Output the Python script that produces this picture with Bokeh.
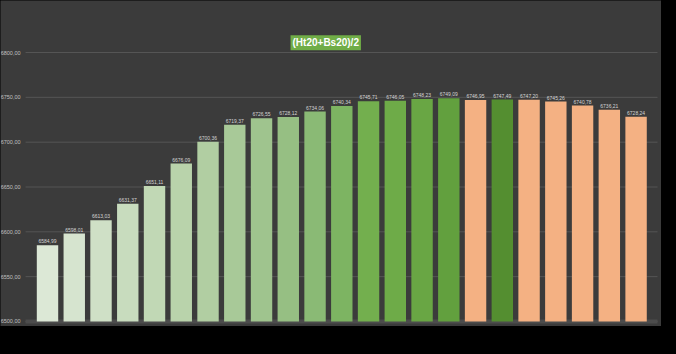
from bokeh.plotting import figure
from bokeh.models import ColumnDataSource, Range1d, Label
from bokeh.layouts import column
from bokeh.embed import file_html
from bokeh.resources import INLINE
from bokeh.core.properties import value

values = [6584.99, 6598.01, 6613.03, 6631.37, 6651.11, 6676.09, 6700.36, 6719.37,
          6726.55, 6728.12, 6734.06, 6740.34, 6745.71, 6746.05, 6748.23, 6749.09,
          6746.95, 6747.49, 6747.20, 6745.26, 6740.78, 6736.21, 6728.24]
colors = ["#dce8d6", "#d6e4cf", "#cfe0c6", "#c8dcbe", "#c1d8b5", "#b9d3ab", "#b1cea2",
          "#a8c998", "#9fc48e", "#96bf83", "#8aba75", "#7db462", "#73af4e", "#6eab48",
          "#69a644", "#62a03e", "#f4b183", "#548e30", "#f4b183", "#f4b183", "#f4b183",
          "#f4b183", "#f4b183"]
y_ticks = [6500, 6550, 6600, 6650, 6700, 6750, 6800]
title_text = "(Ht20+Bs20)/2"

def fmt(v):
    return f"{v:.2f}".replace(".", ",")

n = len(values)
idx = list(range(n))
src = ColumnDataSource(dict(x=idx, top=values, color=colors,
                            label=[fmt(v) for v in values]))
grid_left, grid_right = -0.82, n - 0.2
tick_src = ColumnDataSource(dict(y=y_ticks, x0=[grid_left] * len(y_ticks),
                                 x1=[grid_right] * len(y_ticks),
                                 label=[fmt(t) for t in y_ticks]))

BG = "#3b3b3b"
p = figure(width=661, height=326, output_backend="svg", toolbar_location=None,
           x_range=Range1d(-1.757, 22.95), y_range=Range1d(6494.4, 6858),
           min_border=0,
           background_fill_color=BG, border_fill_color=BG, outline_line_color=None)
p.axis.visible = False
p.grid.visible = False

# gridlines and y labels
p.segment(x0="x0", x1="x1", y0="y", y1="y", source=tick_src, line_color="#555555", line_width=1)
p.segment(x0=grid_left, x1=grid_right, y0=y_ticks[0], y1=y_ticks[0], line_color="#4c4c4c", line_width=4)
p.text(x="x0", y="y", text="label", source=tick_src, x_offset=-5, text_align="right",
       text_baseline="middle", text_font_size="5.5px", text_color="#c0c0c0",
       text_font=value("Liberation Sans"))

p.vbar(x="x", top="top", bottom=y_ticks[0], width=0.8, color="color", source=src, line_color=None)
p.text(x="x", y="top", text="label", source=src, text_align="center", text_baseline="bottom",
       y_offset=-2, text_font_size="5px", text_color="#d4d4d4", text_font=value("Liberation Sans"))

title = Label(x=10.4, y=6811, text=title_text, text_align="center", text_baseline="middle",
              text_color="white", text_font_style="bold", text_font_size="10px",
              text_font="Liberation Sans", background_fill_color="#70ad47", padding=2)
p.add_layout(title)

layout = column(p, width=676, height=354, styles={"background-color": "#000000"})
open("out.html", "w").write(file_html(layout, INLINE))
